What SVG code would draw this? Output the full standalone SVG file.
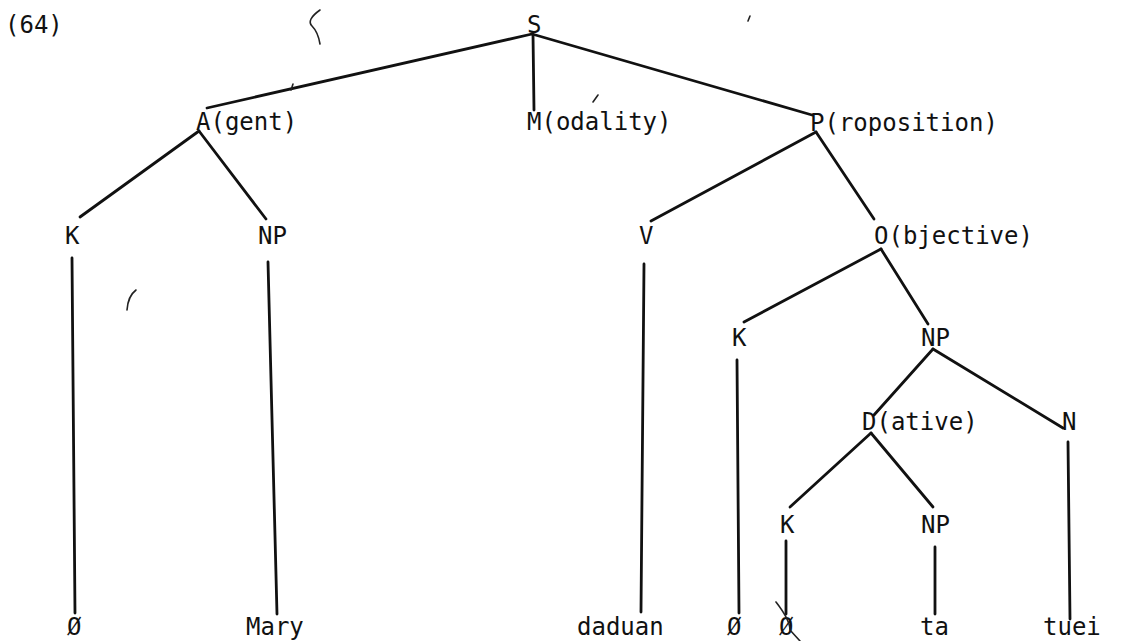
<svg xmlns="http://www.w3.org/2000/svg" width="1123" height="641" viewBox="0 0 1123 641">
<style>
text{font-family:"DejaVu Sans Mono","Liberation Mono",monospace;font-size:24px;fill:#111}
.e{stroke:#111;stroke-width:2.8;fill:none;stroke-linecap:round}
.m{stroke:#222;stroke-width:1.6;fill:none;stroke-linecap:round}
</style>
<rect width="1123" height="641" fill="#fff"/>
<g id="label-64"><text x="5" y="33">(64)</text></g>
<g id="connectors">
<line class="e" x1="532" y1="34" x2="207" y2="108"/>
<line class="e" x1="533" y1="34" x2="534" y2="110"/>
<line class="e" x1="532" y1="34" x2="812" y2="115"/>
<line class="e" x1="199" y1="131" x2="80" y2="217"/>
<line class="e" x1="199" y1="131" x2="266" y2="219"/>
<line class="e" x1="816" y1="132" x2="651" y2="221"/>
<line class="e" x1="816" y1="132" x2="874" y2="219"/>
<line class="e" x1="72" y1="258" x2="75" y2="613"/>
<line class="e" x1="268" y1="262" x2="277" y2="614"/>
<line class="e" x1="644" y1="264" x2="641" y2="612"/>
<line class="e" x1="881" y1="249" x2="744" y2="322"/>
<line class="e" x1="881" y1="249" x2="928" y2="324"/>
<line class="e" x1="737" y1="360" x2="739" y2="613"/>
<line class="e" x1="933" y1="349" x2="874" y2="415"/>
<line class="e" x1="933" y1="349" x2="1063" y2="428"/>
<line class="e" x1="871" y1="433" x2="790" y2="507"/>
<line class="e" x1="871" y1="433" x2="933" y2="507"/>
<line class="e" x1="1068" y1="442" x2="1070" y2="619"/>
<line class="e" x1="786" y1="541" x2="786" y2="614"/>
<line class="e" x1="935" y1="547" x2="935" y2="614"/>
</g>
<g id="n-S"><text x="527" y="33">S</text></g>
<g id="n-A"><text x="196" y="130">A(gent)</text></g>
<g id="n-M"><text x="527" y="130">M(odality)</text></g>
<g id="n-P"><text x="810" y="131">P(roposition)</text></g>
<g id="n-K1"><text x="65" y="244">K</text></g>
<g id="n-NP1"><text x="258" y="244">NP</text></g>
<g id="n-V"><text x="639" y="244">V</text></g>
<g id="n-O"><text x="874" y="244">O(bjective)</text></g>
<g id="n-K2"><text x="732" y="346">K</text></g>
<g id="n-NP2"><text x="921" y="346">NP</text></g>
<g id="n-D"><text x="862" y="430">D(ative)</text></g>
<g id="n-N"><text x="1062" y="430">N</text></g>
<g id="n-K3"><text x="780" y="533">K</text></g>
<g id="n-NP3"><text x="921" y="533">NP</text></g>
<g id="w-null1"><text x="67" y="635">Ø</text></g>
<g id="w-Mary"><text x="246" y="635">Mary</text></g>
<g id="w-daduan"><text x="577" y="635">daduan</text></g>
<g id="w-null2"><text x="727" y="635">Ø</text></g>
<g id="w-null3"><text x="779" y="635">Ø</text></g>
<g id="w-ta"><text x="920" y="635">ta</text></g>
<g id="w-tuei"><text x="1043" y="635">tuei</text></g>
<g id="scan-marks">
<path class="m" d="M320 10 Q306 20 312 26 Q318 32 320 44"/>
<path class="m" d="M136 290 Q128 296 127 310"/>
<path class="m" d="M776 602 Q790 620 790 630 L800 641"/>
<path class="m" d="M293 84 L291 90"/>
<path class="m" d="M598 95 L593 102"/>
<path class="m" d="M750 16 L748 21"/>
</g>
</svg>
